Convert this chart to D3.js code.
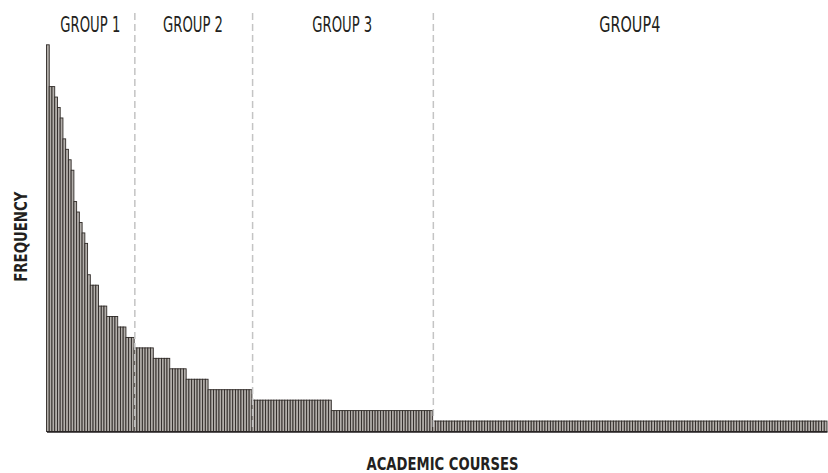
<!DOCTYPE html>
<html>
<head>
<meta charset="utf-8">
<script src="https://cdn.jsdelivr.net/npm/d3@7"></script>
<style>
  html, body { margin: 0; padding: 0; background: #ffffff; }
  svg { display: block; }
</style>
</head>
<body>
<svg id="chart" width="828" height="473"></svg>
<script>
// ---- data ----
const groupNames = ["GROUP 1", "GROUP 2", "GROUP 3", "GROUP4"];
const groupSizes = [32, 43, 66, 144];

// frequency of each academic course, sorted descending
const frequencies = [
  // group 1
  37, 33, 33, 32, 31, 30, 28, 27, 26, 25, 22, 21, 20, 19, 18, 15,
  14, 14, 14, 12, 12, 12, 11, 11, 11, 11, 10, 10, 10, 9, 9, 9,
  // group 2
  8, 8, 8, 8, 8, 8, 8,
  7, 7, 7, 7, 7, 7,
  6, 6, 6, 6, 6, 6,
  5, 5, 5, 5, 5, 5, 5, 5,
  4, 4, 4, 4, 4, 4, 4, 4, 4, 4, 4, 4, 4, 4, 4, 4,
  // group 3
  3, 3, 3, 3, 3, 3, 3, 3, 3, 3, 3, 3, 3, 3, 3, 3, 3, 3, 3, 3,
  3, 3, 3, 3, 3, 3, 3, 3, 3,
  2, 2, 2, 2, 2, 2, 2, 2, 2, 2, 2, 2, 2, 2, 2, 2, 2, 2, 2, 2,
  2, 2, 2, 2, 2, 2, 2, 2, 2, 2, 2, 2, 2, 2, 2, 2, 2,
  // group 4
  1, 1, 1, 1, 1, 1, 1, 1, 1, 1, 1, 1, 1, 1, 1, 1, 1, 1, 1, 1, 1, 1, 1, 1,
  1, 1, 1, 1, 1, 1, 1, 1, 1, 1, 1, 1, 1, 1, 1, 1, 1, 1, 1, 1, 1, 1, 1, 1,
  1, 1, 1, 1, 1, 1, 1, 1, 1, 1, 1, 1, 1, 1, 1, 1, 1, 1, 1, 1, 1, 1, 1, 1,
  1, 1, 1, 1, 1, 1, 1, 1, 1, 1, 1, 1, 1, 1, 1, 1, 1, 1, 1, 1, 1, 1, 1, 1,
  1, 1, 1, 1, 1, 1, 1, 1, 1, 1, 1, 1, 1, 1, 1, 1, 1, 1, 1, 1, 1, 1, 1, 1,
  1, 1, 1, 1, 1, 1, 1, 1, 1, 1, 1, 1, 1, 1, 1, 1, 1, 1, 1, 1, 1, 1, 1, 1
];
const courses = frequencies.map((d, i) => "Course " + (i + 1));

const xTitle = "ACADEMIC COURSES";
const yTitle = "FREQUENCY";

// ---- drawing ----
const svg = d3.select("#chart");
const left = 46.5, right = 827, baseY = 431.5, topY = 44.8;

const x = d3.scaleBand().domain(courses).range([left, right]).padding(0);
const y = d3.scaleLinear().domain([0, d3.max(frequencies)]).range([baseY, topY]);

// group boundaries
let acc = 0;
const groups = groupNames.map((name, i) => {
  const start = acc;
  acc += groupSizes[i];
  return { name, start, end: acc };
});

const fontNarrow = "'Liberation Sans Narrow', 'DejaVu Sans Condensed', 'Liberation Sans', sans-serif";

// bars
svg.append("g")
  .selectAll("rect")
  .data(frequencies)
  .join("rect")
  .attr("x", (d, i) => x(courses[i]))
  .attr("y", d => y(d))
  .attr("width", x.bandwidth())
  .attr("height", d => baseY - y(d))
  .attr("fill", "#b3afab")
  .attr("stroke", "#2f2a27")
  .attr("stroke-width", 0.9);

// dashed separators
svg.append("g")
  .selectAll("line")
  .data(groups.slice(1))
  .join("line")
  .attr("x1", g => x(courses[g.start]) + 0.7)
  .attr("x2", g => x(courses[g.start]) + 0.7)
  .attr("y1", 13)
  .attr("y2", baseY)
  .attr("stroke", "#c4c4c4")
  .attr("stroke-width", 1.5)
  .attr("stroke-dasharray", "7,4");

// x axis
const xAxis = svg.append("g")
  .attr("transform", `translate(0,${baseY})`)
  .call(d3.axisBottom(x).tickValues([]).tickSizeOuter(0));
xAxis.select(".domain").attr("stroke", "#231f20").attr("stroke-width", 1.6);

// group labels
svg.append("g")
  .selectAll("text")
  .data(groups)
  .join("text")
  .attr("x", g => (x(courses[g.start]) + x(courses[g.end - 1]) + x.bandwidth()) / 2)
  .attr("y", 31.5)
  .attr("text-anchor", "middle")
  .attr("font-family", fontNarrow)
  .attr("font-size", 21)
  .attr("fill", "#231f20")
  .attr("textLength", g => g.name.length === 7 ? 60 : 61)
  .attr("lengthAdjust", "spacingAndGlyphs")
  .text(g => g.name);

// axis titles
svg.append("text")
  .attr("x", 442.5)
  .attr("y", 469.5)
  .attr("text-anchor", "middle")
  .attr("font-family", fontNarrow)
  .attr("font-weight", "bold")
  .attr("font-size", 18)
  .attr("fill", "#231f20")
  .attr("textLength", 152)
  .attr("lengthAdjust", "spacingAndGlyphs")
  .text(xTitle);

svg.append("text")
  .attr("transform", "translate(26.5,236.7) rotate(-90)")
  .attr("text-anchor", "middle")
  .attr("font-family", fontNarrow)
  .attr("font-weight", "bold")
  .attr("font-size", 18)
  .attr("fill", "#231f20")
  .attr("textLength", 90)
  .attr("lengthAdjust", "spacingAndGlyphs")
  .text(yTitle);
</script>
</body>
</html>
